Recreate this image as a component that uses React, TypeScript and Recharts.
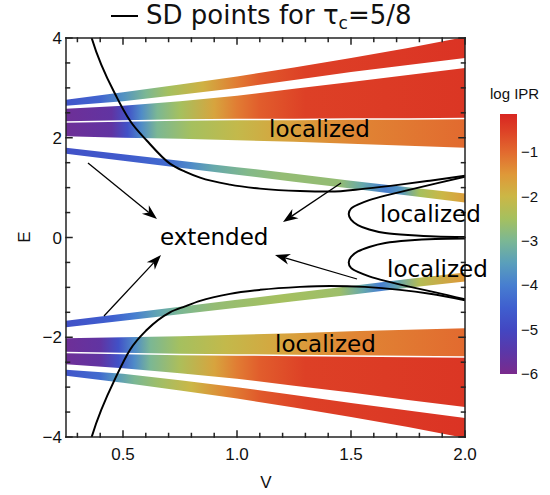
import React from 'react';
import { ComposedChart, Area, Line, XAxis, YAxis } from 'recharts';

// V samples for band edges
const vGrid = [0.25, 0.5, 0.75, 1.0, 1.25, 1.5, 1.75, 2.0];

// band edges (E), upper half
const aHi = [2.76, 2.91, 3.07, 3.23, 3.41, 3.6, 3.8, 4.02];
const aLo = [2.64, 2.73, 2.86, 3.0, 3.16, 3.32, 3.46, 3.6];
const bHi = [2.58, 2.64, 2.73, 2.84, 2.98, 3.12, 3.26, 3.4];
const bLo = [2.33, 2.35, 2.37, 2.38, 2.38, 2.39, 2.39, 2.4];
const cHi = [2.3, 2.32, 2.34, 2.35, 2.35, 2.36, 2.36, 2.37];
const cLo = [2.03, 2.0, 1.98, 1.95, 1.92, 1.88, 1.84, 1.8];
const dHi = [1.8, 1.67, 1.54, 1.41, 1.28, 1.14, 1.01, 0.88];
const dLo = [1.68, 1.54, 1.4, 1.26, 1.12, 0.98, 0.84, 0.7];
// band edges (E), lower half
const d2Hi = [-1.67, -1.53, -1.39, -1.25, -1.11, -0.97, -0.83, -0.7];
const d2Lo = [-1.8, -1.67, -1.54, -1.41, -1.28, -1.15, -1.01, -0.88];
const c2Hi = [-2.02, -2.0, -1.98, -1.95, -1.92, -1.88, -1.85, -1.82];
const c2Lo = [-2.29, -2.31, -2.33, -2.34, -2.35, -2.36, -2.37, -2.38];
const b2Hi = [-2.32, -2.34, -2.36, -2.37, -2.38, -2.39, -2.4, -2.41];
const b2Lo = [-2.54, -2.62, -2.72, -2.83, -2.97, -3.11, -3.26, -3.4];
const a2Hi = [-2.65, -2.73, -2.86, -3.0, -3.16, -3.32, -3.47, -3.62];
const a2Lo = [-2.77, -2.91, -3.07, -3.23, -3.41, -3.6, -3.8, -4.02];

// log IPR along each band
const aIprV = [0.25, 0.4, 0.5, 0.6, 0.7, 0.85, 1.0, 1.1, 1.3, 2.0];
const aIpr = [-4.7, -4.4, -3.7, -3.0, -2.5, -1.9, -1.2, -0.8, -0.5, -0.25];
const bIprV = [0.25, 0.45, 0.52, 0.58, 0.65, 0.75, 0.9, 1.0, 1.1, 1.3, 2.0];
const bIpr = [-5.8, -5.6, -4.8, -3.8, -3.0, -2.5, -1.7, -1.2, -0.85, -0.5, -0.3];
const cIprV = [0.25, 0.45, 0.52, 0.58, 0.65, 0.8, 1.0, 1.2, 1.5, 2.0];
const cIpr = [-5.8, -5.6, -4.8, -3.8, -3.0, -2.5, -2.1, -1.7, -1.3, -1.0];
const dIprV = [0.25, 0.5, 0.7, 0.8, 0.9, 1.05, 1.2, 1.45, 1.55, 1.65, 1.72, 1.8, 1.9, 2.0];
const dIpr = [-4.8, -4.6, -4.3, -3.8, -3.3, -2.9, -2.7, -2.7, -3.3, -4.0, -3.6, -2.5, -2.0, -1.6];
const d2IprV = [0.25, 0.45, 0.55, 0.65, 0.75, 0.9, 1.2, 1.45, 1.55, 1.63, 1.7, 1.8, 2.0];
const d2Ipr = [-4.8, -4.5, -4.0, -3.4, -3.0, -2.7, -2.5, -2.6, -3.3, -4.0, -3.4, -2.3, -1.5];
const c2IprV = [0.25, 0.4, 0.48, 0.55, 0.62, 0.75, 0.95, 1.2, 1.5, 2.0];
const c2Ipr = [-5.8, -5.6, -4.8, -3.8, -3.0, -2.5, -2.1, -1.7, -1.3, -1.0];
const b2IprV = [0.25, 0.4, 0.48, 0.55, 0.62, 0.75, 0.9, 1.0, 1.1, 1.3, 2.0];
const b2Ipr = [-5.8, -5.6, -4.8, -3.8, -3.0, -2.4, -1.7, -1.2, -0.85, -0.5, -0.3];
const a2IprV = [0.25, 0.4, 0.47, 0.55, 0.65, 0.8, 0.95, 1.1, 1.3, 2.0];
const a2Ipr = [-4.7, -4.3, -3.6, -3.0, -2.6, -2.0, -1.3, -0.8, -0.5, -0.25];

// SD point curves (V, E)
const sd1 = [
  { V: 0.355, E: 4.12 }, { V: 0.364, E: 3.98 }, { V: 0.474, E: 2.8 }, { V: 0.531, E: 2.34 },
  { V: 0.605, E: 1.94 }, { V: 0.706, E: 1.48 }, { V: 0.772, E: 1.32 }, { V: 0.838, E: 1.2 },
  { V: 0.969, E: 1.06 }, { V: 1.101, E: 0.98 }, { V: 1.276, E: 0.93 }, { V: 1.408, E: 0.92 },
  { V: 1.561, E: 0.98 }, { V: 1.715, E: 1.06 }, { V: 1.846, E: 1.14 }, { V: 2.0, E: 1.24 },
];
const sd2 = [
  { V: 0.355, E: -4.12 }, { V: 0.364, E: -3.98 }, { V: 0.474, E: -2.75 }, { V: 0.531, E: -2.25 },
  { V: 0.605, E: -1.85 }, { V: 0.706, E: -1.5 }, { V: 0.772, E: -1.38 }, { V: 0.838, E: -1.27 },
  { V: 0.969, E: -1.13 }, { V: 1.101, E: -1.05 }, { V: 1.276, E: -0.99 }, { V: 1.408, E: -0.97 },
  { V: 1.561, E: -0.99 }, { V: 1.715, E: -1.05 }, { V: 1.846, E: -1.13 }, { V: 2.0, E: -1.26 },
];
const sdUpperC = [
  { V: 2.0, E: 1.22 }, { V: 1.87, E: 1.08 }, { V: 1.75, E: 0.95 }, { V: 1.65, E: 0.84 },
  { V: 1.58, E: 0.75 }, { V: 1.53, E: 0.66 }, { V: 1.5, E: 0.58 }, { V: 1.49, E: 0.47 },
  { V: 1.5, E: 0.36 }, { V: 1.53, E: 0.25 }, { V: 1.58, E: 0.16 }, { V: 1.65, E: 0.09 },
  { V: 1.75, E: 0.05 }, { V: 1.87, E: 0.02 }, { V: 2.0, E: 0.01 },
];
const sdLowerC = [
  { V: 2.0, E: -0.02 }, { V: 1.87, E: -0.03 }, { V: 1.75, E: -0.06 }, { V: 1.65, E: -0.11 },
  { V: 1.58, E: -0.19 }, { V: 1.53, E: -0.28 }, { V: 1.5, E: -0.39 }, { V: 1.49, E: -0.5 },
  { V: 1.5, E: -0.61 }, { V: 1.53, E: -0.69 }, { V: 1.58, E: -0.78 }, { V: 1.65, E: -0.87 },
  { V: 1.75, E: -0.98 }, { V: 1.87, E: -1.1 }, { V: 2.0, E: -1.24 },
];

const xTicks = [0.3, 0.4, 0.5, 0.6, 0.7, 0.8, 0.9, 1.0, 1.1, 1.2, 1.3, 1.4, 1.5, 1.6, 1.7, 1.8, 1.9, 2.0];
const yTicks = [-4, -3.5, -3, -2.5, -2, -1.5, -1, -0.5, 0, 0.5, 1, 1.5, 2, 2.5, 3, 3.5, 4];
const barTicks = [-1, -2, -3, -4, -5, -6];

// Rainbow colour scale for log IPR
const cmap: [number, string][] = [
  [-6, '#7a2a8c'], [-5.5, '#5b37a8'], [-5, '#4347c2'], [-4.5, '#3f5fcf'], [-4, '#477ed0'],
  [-3.5, '#5a9fbb'], [-3, '#7bb794'], [-2.5, '#a5c05f'], [-2, '#cbb746'], [-1.5, '#df9838'],
  [-1, '#e26a2f'], [-0.5, '#dd4026'], [0, '#d82621'],
];

function hex(c: string) {
  return [1, 3, 5].map((i) => parseInt(c.slice(i, i + 2), 16));
}
function iprColor(v: number) {
  if (v <= cmap[0][0]) return cmap[0][1];
  for (let i = 1; i < cmap.length; i++) {
    if (v <= cmap[i][0]) {
      const t = (v - cmap[i - 1][0]) / (cmap[i][0] - cmap[i - 1][0]);
      const a = hex(cmap[i - 1][1]);
      const b = hex(cmap[i][1]);
      const m = a.map((x, k) => Math.round(x + (b[k] - x) * t));
      return `rgb(${m[0]},${m[1]},${m[2]})`;
    }
  }
  return cmap[cmap.length - 1][1];
}

const rows = vGrid.map((v, i) => ({
  V: v,
  A: [aLo[i], aHi[i]],
  B: [bLo[i], bHi[i]],
  C: [cLo[i], cHi[i]],
  D: [dLo[i], dHi[i]],
  D2: [d2Lo[i], d2Hi[i]],
  C2: [c2Lo[i], c2Hi[i]],
  B2: [b2Lo[i], b2Hi[i]],
  A2: [a2Lo[i], a2Hi[i]],
}));

const bands: [string, number[], number[]][] = [
  ['A', aIprV, aIpr], ['B', bIprV, bIpr], ['C', cIprV, cIpr], ['D', dIprV, dIpr],
  ['D2', d2IprV, d2Ipr], ['C2', c2IprV, c2Ipr], ['B2', b2IprV, b2Ipr], ['A2', a2IprV, a2Ipr],
];

const axisCol = '#222222';
const tickFont = '"Liberation Sans", Arial, sans-serif';
const textFont = '"DejaVu Sans", sans-serif';

// plot box (must match chart margins/axis sizes)
const plotL = 66;
const plotR = 465;
const plotT = 38;
const plotB = 437;
const xDom = [0.25, 2];
const yDom = [-4, 4];
const px = (v: number) => plotL + ((v - xDom[0]) / (xDom[1] - xDom[0])) * (plotR - plotL);
const py = (e: number) => plotT + ((yDom[1] - e) / (yDom[1] - yDom[0])) * (plotB - plotT);

function fmtY(v: number) {
  return v < 0 ? '\u2212' + Math.abs(v) : String(v);
}
const isMajorX = (v: number) => Math.round(v * 10) % 5 === 0;
const isMajorY = (v: number) => Math.round(v * 2) % 4 === 0;

function xLabel(p: any) {
  const { x, y, payload } = p;
  const v = payload.value;
  if (!isMajorX(v)) return <g />;
  return (
    <text x={x} y={y + 23} textAnchor="middle" fontSize={17} fontFamily={tickFont} fill="#111">
      {v.toFixed(1)}
    </text>
  );
}
function yLabel(p: any) {
  const { x, y, payload } = p;
  const v = payload.value;
  if (!isMajorY(v)) return <g />;
  return (
    <text x={x - 4} y={y + 6} textAnchor="end" fontSize={17} fontFamily={tickFont} fill="#111">
      {fmtY(v)}
    </text>
  );
}

// frame with inward ticks on all four sides
function frameSegments() {
  const segs: [number, number, number, number][] = [
    [plotL, plotT, plotR, plotT],
    [plotR, plotT, plotR, plotB],
    [plotL, plotB, plotR, plotB],
    [plotL, plotT, plotL, plotB],
  ];
  xTicks.forEach((v) => {
    const x = px(v);
    const len = isMajorX(v) ? 6 : 3.5;
    segs.push([x, plotB, x, plotB - len]);
    segs.push([x, plotT, x, plotT + len]);
  });
  yTicks.forEach((v) => {
    const y = py(v);
    const len = isMajorY(v) ? 6 : 3.5;
    segs.push([plotL, y, plotL + len, y]);
    segs.push([plotR, y, plotR - len, y]);
  });
  return segs;
}

function Arrow({ x0, y0, x1, y1 }: { x0: number; y0: number; x1: number; y1: number }) {
  const dx = x1 - x0;
  const dy = y1 - y0;
  const L = Math.hypot(dx, dy);
  const ux = dx / L;
  const uy = dy / L;
  const len = 15;
  const w = 5.5;
  const bx = x1 - ux * len;
  const by = y1 - uy * len;
  const nx = -uy;
  const ny = ux;
  const kx = x1 - ux * len * 0.7;
  const ky = y1 - uy * len * 0.7;
  const pts = `${x1},${y1} ${bx + nx * w},${by + ny * w} ${kx},${ky} ${bx - nx * w},${by - ny * w}`;
  return (
    <g>
      <line x1={x0} y1={y0} x2={kx} y2={ky} stroke="#000" strokeWidth={1.3} />
      <polygon points={pts} fill="#000" />
    </g>
  );
}

// colour bar layout
const barX = 500;
const barW = 17;
const barTop = 114;
const barBottom = 374;
const barMax = -0.14;
const barMin = -6;
const barY = (v: number) => barTop + ((barMax - v) / (barMax - barMin)) * (barBottom - barTop);

export default function App() {
  return (
    <div style={{ position: 'absolute', left: 0, top: 0, width: 550, height: 495, background: '#fff' }}>
      <ComposedChart width={550} height={495} data={rows} margin={{ top: 38, right: 85, bottom: 8, left: 16 }}>
        <defs>
          {bands.map(([id, vs, ipr]) => (
            <linearGradient key={id} id={`g${id}`} x1="0" y1="0" x2="1" y2="0">
              {vs.map((v, i) => (
                <stop key={i} offset={(v - 0.25) / 1.75} stopColor={iprColor(ipr[i])} />
              ))}
            </linearGradient>
          ))}
        </defs>
        <XAxis
          type="number"
          dataKey="V"
          domain={xDom}
          ticks={xTicks}
          interval={0}
          allowDataOverflow
          height={50}
          tickSize={0}
          tickMargin={0}
          tickLine={false}
          axisLine={false}
          tick={xLabel}
        />
        <YAxis
          type="number"
          domain={yDom}
          ticks={yTicks}
          interval={0}
          allowDataOverflow
          width={50}
          tickSize={0}
          tickMargin={0}
          tickLine={false}
          axisLine={false}
          tick={yLabel}
        />
        {bands.map(([id]) => (
          <Area
            key={id}
            dataKey={id}
            type="linear"
            stroke="none"
            fill={`url(#g${id})`}
            fillOpacity={1}
            dot={false}
            activeDot={false}
            isAnimationActive={false}
          />
        ))}
        {[sd1, sd2].map((d, i) => (
          <Line
            key={`sd${i}`}
            data={d}
            dataKey="E"
            type="monotone"
            stroke="#000"
            strokeWidth={2}
            dot={false}
            activeDot={false}
            isAnimationActive={false}
          />
        ))}
        {[sdUpperC, sdLowerC].map((d, i) => (
          <Line
            key={`c${i}`}
            data={d}
            dataKey="E"
            type="natural"
            stroke="#000"
            strokeWidth={2}
            dot={false}
            activeDot={false}
            isAnimationActive={false}
          />
        ))}
      </ComposedChart>
      <svg width={550} height={495} style={{ position: 'absolute', left: 0, top: 0, pointerEvents: 'none' }}>
        <defs>
          <linearGradient id="bar" x1="0" y1="0" x2="0" y2="1">
            {[...cmap].reverse().map(([v, c]) => (
              <stop key={v} offset={Math.max(0, (barMax - v) / (barMax - barMin))} stopColor={c} />
            ))}
          </linearGradient>
        </defs>
        {frameSegments().map(([x1, y1, x2, y2], i) => (
          <line key={i} x1={x1} y1={y1} x2={x2} y2={y2} stroke={axisCol} strokeWidth={1.5} strokeLinecap="square" />
        ))}
        {/* title */}
        <line x1={111} x2={138} y1={16} y2={16} stroke="#000" strokeWidth={2} />
        <text x={146} y={24} fontSize={26} fontFamily={textFont} fill="#111">
          SD points for τ<tspan fontSize={17} dy={5}>c</tspan>
          <tspan dy={-5}>=5/8</tspan>
        </text>
        {/* axis titles */}
        <text x={266} y={488} textAnchor="middle" fontSize={17} fontFamily={tickFont} fill="#111">V</text>
        <text x={24} y={237} textAnchor="middle" dominantBaseline="central" fontSize={17} fontFamily={tickFont} fill="#111" transform="rotate(-90 24 237)">E</text>
        {/* annotations */}
        <text x={160} y={245} fontSize={23} fontFamily={textFont} fill="#000">extended</text>
        <text x={269} y={137} fontSize={23} fontFamily={textFont} fill="#000">localized</text>
        <text x={380} y={222} fontSize={23} fontFamily={textFont} fill="#000">localized</text>
        <text x={387} y={277} fontSize={23} fontFamily={textFont} fill="#000">localized</text>
        <text x={275} y={352} fontSize={23} fontFamily={textFont} fill="#000">localized</text>
        <Arrow x0={88} y0={163} x1={157} y1={219} />
        <Arrow x0={104} y0={316} x1={161} y1={255} />
        <Arrow x0={341} y0={183} x1={283} y1={222} />
        <Arrow x0={357} y0={279} x1={275} y1={255} />
        {/* colour bar */}
        <text x={490} y={99} fontSize={15} fontFamily={tickFont} fill="#111">log IPR</text>
        <rect x={barX} y={barTop} width={barW} height={barBottom - barTop} fill="url(#bar)" />
        {barTicks.map((t) => (
          <text key={t} x={521} y={barY(t) + 5} fontSize={15} fontFamily={tickFont} fill="#111">
            {'\u2212' + Math.abs(t)}
          </text>
        ))}
      </svg>
    </div>
  );
}
